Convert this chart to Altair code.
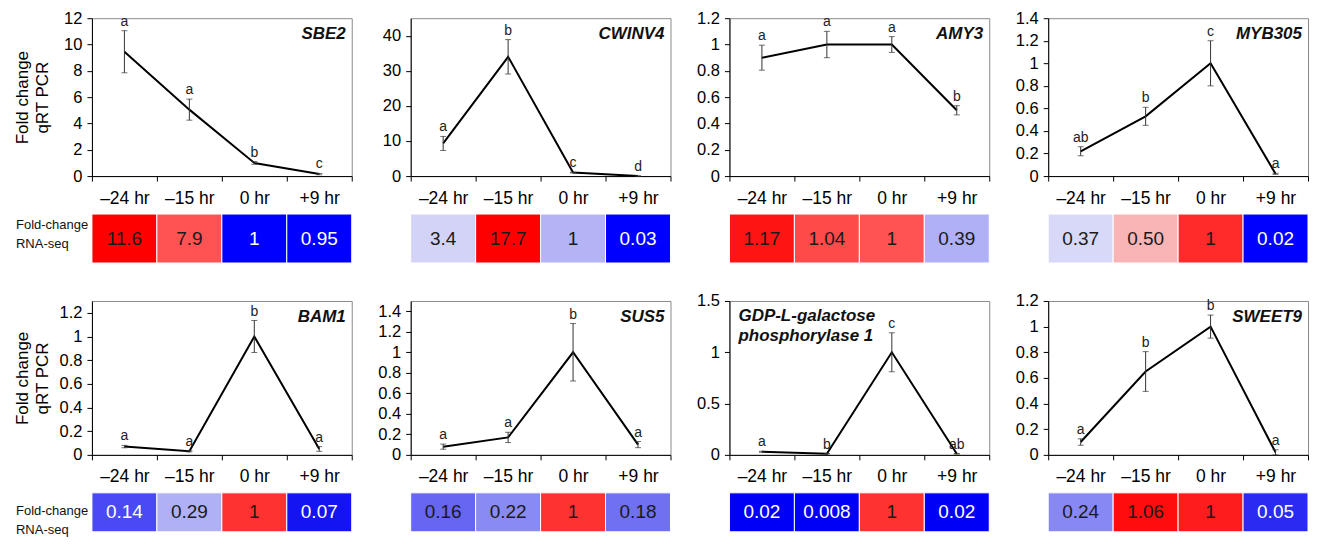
import altair as alt
import pandas as pd

FONT = "Liberation Sans"

TIMES = ["\u201324 hr", "\u201315 hr", "0 hr", "+9 hr"]

GENES = ["SBE2", "CWINV4", "AMY3", "MYB305",
         "BAM1", "SUS5", "GDP-L-galactose\nphosphorylase 1", "SWEET9"]

# qRT-PCR fold change (mean) and error (SE)
SBE2_mean = [9.45, 5.05, 1.0, 0.15]
SBE2_err = [1.6, 0.8, 0.1, 0.05]
CWINV4_mean = [9.3, 34.0, 1.0, 0.03]
CWINV4_err = [2.0, 4.9, 0.1, 0.01]
AMY3_mean = [0.9, 1.0, 1.0, 0.5]
AMY3_err = [0.095, 0.1, 0.06, 0.035]
MYB305_mean = [0.22, 0.53, 1.0, 0.02]
MYB305_err = [0.04, 0.08, 0.2, 0.005]
BAM1_mean = [0.07, 0.03, 1.0, 0.05]
BAM1_err = [0.01, 0.005, 0.135, 0.02]
SUS5_mean = [0.08, 0.17, 1.0, 0.1]
SUS5_err = [0.025, 0.05, 0.28, 0.03]
GDP_mean = [0.03, 0.01, 1.0, 0.01]
GDP_err = [0.005, 0.003, 0.19, 0.003]
SWEET9_mean = [0.1, 0.65, 1.0, 0.02]
SWEET9_err = [0.025, 0.155, 0.09, 0.02]

MEANS = [SBE2_mean, CWINV4_mean, AMY3_mean, MYB305_mean,
         BAM1_mean, SUS5_mean, GDP_mean, SWEET9_mean]
ERRS = [SBE2_err, CWINV4_err, AMY3_err, MYB305_err,
        BAM1_err, SUS5_err, GDP_err, SWEET9_err]

LETTERS = [["a", "a", "b", "c"], ["a", "b", "c", "d"], ["a", "a", "a", "b"],
           ["ab", "b", "c", "a"], ["a", "a", "b", "a"], ["a", "a", "b", "a"],
           ["a", "b", "c", "ab"], ["a", "b", "b", "a"]]

# y axis ranges and tick steps
Y_MAX = [12, 45, 1.2, 1.4, 1.3, 1.5, 1.5, 1.2]
Y_STEP = [2, 10, 0.2, 0.2, 0.2, 0.2, 0.5, 0.2]
Y_TOP_TICK = [12, 40, 1.2, 1.4, 1.2, 1.4, 1.5, 1.2]

# RNA-seq fold change (as printed)
RNASEQ = [["11.6", "7.9", "1", "0.95"], ["3.4", "17.7", "1", "0.03"],
          ["1.17", "1.04", "1", "0.39"], ["0.37", "0.50", "1", "0.02"],
          ["0.14", "0.29", "1", "0.07"], ["0.16", "0.22", "1", "0.18"],
          ["0.02", "0.008", "1", "0.02"], ["0.24", "1.06", "1", "0.05"]]

# styles: heat cell fills and text colours
FILLS = [["#ff0000", "#ff5252", "#0000ff", "#0000ff"],
         ["#d3d3f8", "#ff0000", "#b3b3f6", "#0000ff"],
         ["#ff1414", "#ff4a4a", "#ff5252", "#b0b0f7"],
         ["#d8d8f8", "#f9b5b5", "#ff2a2a", "#0000ff"],
         ["#4a4af4", "#b0b0f6", "#ff3232", "#1414f2"],
         ["#6666f2", "#8a8af4", "#ff3232", "#7070f3"],
         ["#0000f6", "#0000f6", "#ff3232", "#0000f6"],
         ["#8888f4", "#ff0c0c", "#ff1c1c", "#2a2af3"]]
D, Wt = "#1a1a1a", "#ffffff"
TXTC = [[D, D, Wt, Wt], [D, D, D, Wt], [D, D, D, D], [D, D, D, Wt],
        [Wt, D, D, Wt], [D, D, D, D], [Wt, Wt, D, Wt], [D, D, D, Wt]]

W = 260
H_ROW = [158, 154]
HH_ROW = [49, 39]
LAB_Y = [11, 18]


def tick_values(k):
    vals = []
    i = 0
    while True:
        v = round(i * Y_STEP[k], 6)
        if v > Y_TOP_TICK[k] + 1e-9:
            break
        vals.append(v)
        i += 1
    return vals


def xband(axis):
    return alt.X("time:N", sort=TIMES,
                 scale=alt.Scale(type="band", domain=TIMES, paddingInner=0, paddingOuter=0),
                 **axis)


def line_panel(k, h, first):
    df = pd.DataFrame({
        "time": TIMES,
        "mean": MEANS[k],
        "lo": [m - e for m, e in zip(MEANS[k], ERRS[k])],
        "hi": [m + e for m, e in zip(MEANS[k], ERRS[k])],
        "letter": LETTERS[k],
    })
    xaxis = dict(axis=alt.Axis(title=None, labelAngle=0, tickBand="extent",
                               labelFontSize=17.5, labelPadding=8, tickSize=5,
                               domainColor="black", tickColor="black",
                               labelColor="black", labelFont=FONT))
    ykw = dict(values=tick_values(k), format=".4~g", grid=False, tickSize=5,
               labelPadding=5, labelFontSize=16.5, labelFont=FONT,
               labelColor="black", domainColor="black", tickColor="black",
               minExtent=30, maxExtent=30)
    if first:
        ykw.update(title=["Fold change", "qRT PCR"], titleFontSize=17,
                   titleFont=FONT, titleFontWeight="normal", titleColor="black",
                   titleLineHeight=20, titlePadding=10)
    else:
        ykw.update(title=None)
    yscale = alt.Scale(domain=[0, Y_MAX[k]], nice=False, zero=True)

    def Y(field):
        return alt.Y(field, type="quantitative", scale=yscale, axis=alt.Axis(**ykw))

    base = alt.Chart(df)
    x = xband(xaxis)
    line = base.mark_line(color="black", strokeWidth=2).encode(x=x, y=Y("mean"))
    rule = base.mark_rule(color="#333333", strokeWidth=1).encode(x=x, y=Y("lo"), y2="hi")
    cap_lo = base.mark_tick(color="#333333", size=6, thickness=1).encode(x=x, y=Y("lo"))
    cap_hi = base.mark_tick(color="#333333", size=6, thickness=1).encode(x=x, y=Y("hi"))
    letters = base.mark_text(fontSize=14, font=FONT, baseline="bottom", dy=-2,
                             color="#222222").encode(x=x, y=Y("hi"), text="letter:N")
    gdf = pd.DataFrame({"g": [GENES[k]]})
    if "\n" in GENES[k]:
        gene = alt.Chart(gdf).mark_text(align="left", baseline="top", lineBreak="\n",
                                        fontSize=17, fontWeight="bold", fontStyle="italic",
                                        font=FONT, lineHeight=20, color="#111111").encode(
            text="g:N", x=alt.value(9), y=alt.value(7))
    else:
        gene = alt.Chart(gdf).mark_text(align="right", baseline="top",
                                        fontSize=17, fontWeight="bold", fontStyle="italic",
                                        font=FONT, color="#111111").encode(
            text="g:N", x=alt.value(W - 6), y=alt.value(8))
    return alt.layer(line, rule, cap_lo, cap_hi, letters, gene).properties(
        width=W, height=h,
        view=alt.ViewBackground(stroke="#8a8a8a", strokeWidth=1))


def heat_panel(k, first, row):
    df = pd.DataFrame({"time": TIMES, "label": RNASEQ[k]})
    x = xband(dict(axis=None))
    rect = alt.Chart(df).mark_rect(stroke="white", strokeWidth=1).encode(
        x=x, fill=alt.Fill("time:N", scale=alt.Scale(domain=TIMES, range=FILLS[k]), legend=None))
    txt = alt.Chart(df).mark_text(fontSize=19, font=FONT).encode(
        x=x, text="label:N",
        color=alt.Color("time:N", scale=alt.Scale(domain=TIMES, range=TXTC[k]), legend=None))
    layers = [rect, txt]
    if first:
        lab = alt.Chart(pd.DataFrame({"t": ["Fold-change\nRNA-seq"]})).mark_text(
            align="left", baseline="middle", lineBreak="\n", fontSize=13, lineHeight=19,
            font=FONT, color="#111111").encode(text="t:N", x=alt.value(-76), y=alt.value(LAB_Y[row]))
        layers.append(lab)
    return alt.layer(*layers).properties(
        width=W, height=HH_ROW[row], view=alt.ViewBackground(strokeWidth=0))


RES = dict(x="independent", y="independent", fill="independent", color="independent")

panels = []
for r in range(2):
    for c in range(4):
        panels.append(line_panel(r * 4 + c, H_ROW[r], c == 0))
    for c in range(4):
        panels.append(heat_panel(r * 4 + c, c == 0, r))

chart = alt.concat(*panels, columns=4, spacing={"row": 38, "column": 59},
                   bounds="flush", align="each").resolve_scale(**RES).properties(
    padding={"left": 5, "top": 1, "right": 0, "bottom": 0}
).configure_view(stroke="#8a8a8a", strokeWidth=1).configure(font=FONT)

chart.save("out.html", embed_options={"renderer": "svg", "actions": False})
